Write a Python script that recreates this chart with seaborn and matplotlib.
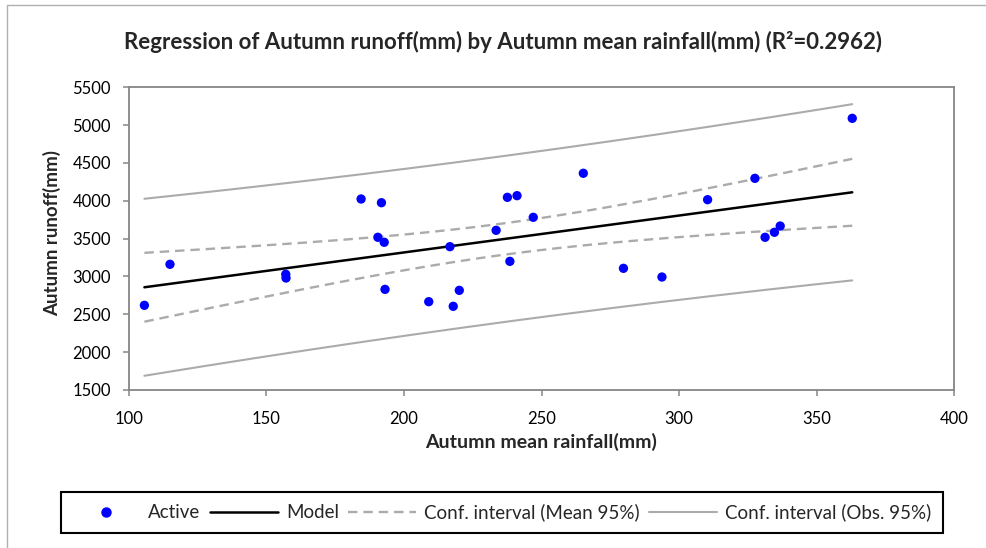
import numpy as np
import pandas as pd
import matplotlib
matplotlib.use("Agg")
import matplotlib.pyplot as plt
from matplotlib.lines import Line2D
from matplotlib.patches import Rectangle
import seaborn as sns

# Autumn mean rainfall (mm) and autumn runoff (mm) observations
rainfall = [105.6, 114.9, 157.0, 157.1, 184.4, 191.8, 190.5, 192.8, 193.1,
            209.0, 216.7, 217.9, 220.1, 233.5, 237.6, 241.1, 238.5, 247.0,
            265.2, 279.8, 293.8, 310.4, 327.6, 331.3, 334.7, 336.8, 363.0]
runoff = [2619, 3161, 3029, 2980, 4024, 3975, 3518, 3452, 2830,
          2667, 3394, 2606, 2817, 3610, 4046, 4068, 3200, 3782,
          4364, 3108, 2993, 4015, 4297, 3518, 3584, 3667, 5090]

x_ticks = [100, 150, 200, 250, 300, 350, 400]
y_ticks = [1500, 2000, 2500, 3000, 3500, 4000, 4500, 5000, 5500]

legend_labels = ["Active", "Model", "Conf. interval (Mean 95%)",
                 "Conf. interval (Obs. 95%)"]
title = "Regression of Autumn runoff(mm) by Autumn mean rainfall(mm) (R²=0.2962)"

df = pd.DataFrame({"rain": rainfall, "runoff": runoff})

# Ordinary least squares fit with 95% bands for the mean and for new observations
x = df["rain"].to_numpy(float)
y = df["runoff"].to_numpy(float)
n = len(x)
slope, intercept = np.polyfit(x, y, 1)
resid = y - (intercept + slope * x)
s = np.sqrt(np.sum(resid ** 2) / (n - 2))
sxx = np.sum((x - x.mean()) ** 2)
t_crit = 2.0595  # Student t, 0.975 quantile, 25 degrees of freedom

xs = np.linspace(x.min(), x.max(), 200)
fit = intercept + slope * xs
se_mean = s * np.sqrt(1 / n + (xs - x.mean()) ** 2 / sxx)
se_obs = s * np.sqrt(1 + 1 / n + (xs - x.mean()) ** 2 / sxx)
bands = pd.DataFrame({
    "x": xs, "fit": fit,
    "mean_lo": fit - t_crit * se_mean, "mean_hi": fit + t_crit * se_mean,
    "obs_lo": fit - t_crit * se_obs, "obs_hi": fit + t_crit * se_obs,
})

sns.set_style("white")
plt.rcParams["font.family"] = ["Lato", "DejaVu Sans"]

fig = plt.figure(figsize=(9.86, 5.48), dpi=100)
ax = fig.add_axes([129 / 986, 1 - 390 / 548, (954 - 129) / 986, (390 - 87.3) / 548])

band_color = "#ABABAB"
for col in ("obs_lo", "obs_hi"):
    sns.lineplot(data=bands, x="x", y=col, ax=ax, color=band_color, lw=1.5)
for col in ("mean_lo", "mean_hi"):
    sns.lineplot(data=bands, x="x", y=col, ax=ax, color=band_color, lw=1.7,
                 linestyle=(0, (4, 2.5)))
sns.lineplot(data=bands, x="x", y="fit", ax=ax, color="black", lw=1.8)
sns.scatterplot(data=df, x="rain", y="runoff", ax=ax, color="#0000FF", s=45,
                edgecolor="none", zorder=5)

ax.set_xlim(100, 400)
ax.set_ylim(1500, 5500)
ax.set_xticks(x_ticks)
ax.set_yticks(y_ticks)
ax.set_xlabel("")
ax.set_ylabel("")
for sp in ax.spines.values():
    sp.set_color("#868686")
    sp.set_linewidth(1.3)
ax.tick_params(axis="both", direction="out", length=4, width=1.1, color="#868686",
               labelsize=12, pad=9, labelcolor="black", bottom=True, left=True)
ax.tick_params(axis="x", pad=11)

fig.text(0.51, 1 - 42 / 548, title, ha="center", va="center",
         fontsize=16, fontweight="bold")
fig.text(541 / 986, 1 - 442 / 548, "Autumn mean rainfall(mm)", ha="center",
         va="center", fontsize=14, fontweight="bold")
fig.text(52 / 986, 1 - 233 / 548, "Autumn runoff(mm)", ha="center", va="center",
         rotation=90, fontsize=13.5, fontweight="bold")

handles = [
    Line2D([], [], ls="none", marker="o", color="#0000FF", markersize=6.5),
    Line2D([], [], color="black", lw=1.8),
    Line2D([], [], color=band_color, lw=1.7, ls=(0, (4, 2.5))),
    Line2D([], [], color=band_color, lw=1.5),
]
leg = fig.legend(handles, legend_labels, loc="center", ncol=4,
                 bbox_to_anchor=(502 / 986, 1 - 512.5 / 548), fontsize=13.5,
                 frameon=True, fancybox=False, framealpha=1, edgecolor="black",
                 handlelength=3.6, handletextpad=0.45, columnspacing=0.5,
                 borderpad=0.6)
leg.get_frame().set_linewidth(1.5)

# Chart-area border along the top and left edges
fig.patches.append(Rectangle((7 / 986, -0.1), 1.2, 1.1 - 5 / 548,
                             transform=fig.transFigure, fill=False,
                             edgecolor="#B0B0B0", lw=1.0))

fig.savefig("out.png", dpi=100)
